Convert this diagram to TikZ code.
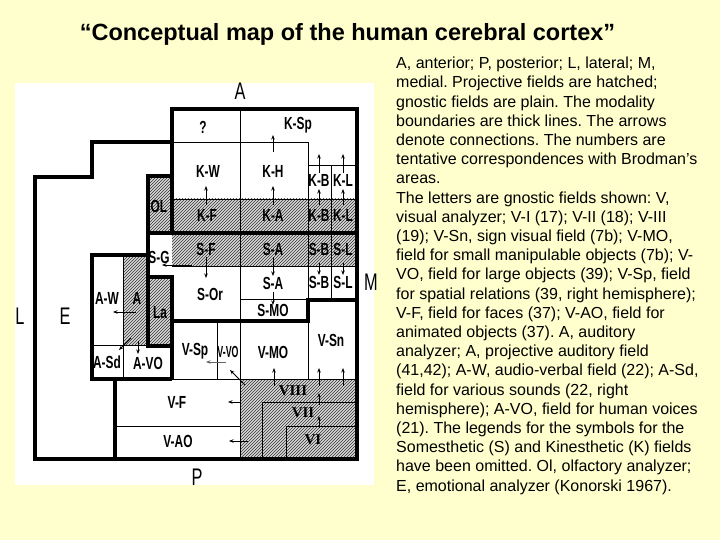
\documentclass[tikz,border=0pt]{standalone}
\usepackage{fontspec}
\setmainfont{Liberation Sans}
\newfontfamily\lblfont[FakeStretch=0.68]{Liberation Sans}
\newfontfamily\narrowfont[FakeStretch=0.55]{Liberation Sans}
\newfontfamily\romfont{Liberation Serif}
\usetikzlibrary{arrows.meta, patterns}
\definecolor{slidebg}{RGB}{255,255,206}
\frenchspacing
\tikzset{
  fieldlbl/.style={inner sep=0pt, font=\lblfont\bfseries\fontsize{17.5}{17.5}\selectfont},
  narrowlbl/.style={inner sep=0pt, font=\narrowfont\bfseries\fontsize{16}{16}\selectfont},
  romlbl/.style={inner sep=0pt, font=\romfont\bfseries\fontsize{15}{15}\selectfont},
  sidelbl/.style={inner sep=0pt, font=\lblfont\fontsize{24}{24}\selectfont},
  bound/.style={line width=3.5pt, line cap=square},
  thinb/.style={line width=0.8pt},
  hatch/.style={preaction={fill=black!15}, pattern=north east lines, pattern color=black!80},
  arr/.style={-{Stealth[length=4.5pt, width=3.5pt]}, line width=0.9pt},
}

\begin{document}
\begin{tikzpicture}[x=1pt, y=-1pt]
  % Slide and panel
  \useasboundingbox (0,0) rectangle (720,540);
  \fill[slidebg] (0,0) rectangle (720,540);
  \fill[white] (15,83) rectangle (374,485);

  % Projective (hatched) fields
  \path[hatch] (148,176) rectangle (172,233);
  \path[hatch] (172,199) rectangle (357,266);
  \path[hatch] (123,255) rectangle (148,345);
  \path[hatch] (148,277) rectangle (172,346);
  \path[hatch] (240,379) rectangle (357,459);

  % Field borders
  \draw[thinb] (240,109) -- (240,459);
  \draw[thinb] (172,142) -- (308,142) -- (308,300);
  \draw[thinb] (308,165) -- (357,165);
  \draw[thinb] (331,165) -- (331,300);
  \draw[thinb] (172,199) -- (357,199);
  \draw[thinb] (172,266) -- (357,266);
  \draw[thinb] (240,299) -- (308,299);
  \draw[thinb] (123,255) -- (123,379);
  \draw[thinb] (92,345) -- (148,345);
  \draw[thinb] (217,321) -- (217,379);
  \draw[thinb] (308,321) -- (308,379);
  \draw[thinb] (172,379) -- (357,379);
  \draw[thinb] (115,426) -- (240,426);
  \draw[thinb] (262,459) -- (262,402) -- (357,402);
  \draw[thinb] (286,459) -- (286,426) -- (357,426);

  % Modality boundaries
  \draw[bound] (172,109) -- (357,109) -- (357,459) -- (35,459) -- (35,177)
    -- (92,177) -- (92,142) -- (172,142) -- cycle;
  \draw[bound] (172,142) -- (172,233);
  \draw[bound] (172,176) -- (148,176) -- (148,346) -- (172,346);
  \draw[bound] (148,233) -- (357,233);
  \draw[bound] (148,277) -- (172,277) -- (172,379);
  \draw[bound] (148,255) -- (92,255) -- (92,379) -- (172,379);
  \draw[bound] (115,379) -- (115,459);
  \draw[bound] (172,321) -- (308,321) -- (308,300) -- (357,300);

  % Nodes
  \node[sidelbl] (ant) at (240,91) {A};
  \node[sidelbl] (post) at (197,477) {P};
  \node[sidelbl] (lat) at (20,316) {L};
  \node[sidelbl] (emo) at (65,316) {E};
  \node[sidelbl] (med) at (371,282) {M};

  \node[fieldlbl] (unk) at (203,127) {?};
  \node[fieldlbl] (ksp) at (298,125) {K-Sp};
  \node[fieldlbl] (kw) at (208,171) {K-W};
  \node[fieldlbl] (kh) at (273,171) {K-H};
  \node[fieldlbl] (kbu) at (319,180) {K-B};
  \node[fieldlbl] (klu) at (343,180) {K-L};
  \node[fieldlbl] (kf) at (207,215) {K-F};
  \node[fieldlbl] (ka) at (273,215) {K-A};
  \node[fieldlbl] (kbl) at (319,215) {K-B};
  \node[fieldlbl] (kll) at (343,215) {K-L};
  \node[fieldlbl] (olf) at (159,206) {OL};

  \node[fieldlbl] (sf) at (206,249) {S-F};
  \node[fieldlbl] (sau) at (273,249) {S-A};
  \node[fieldlbl] (sbu) at (319,249) {S-B};
  \node[fieldlbl] (slu) at (343,249) {S-L};
  \node[fieldlbl] (sg) at (159,257) {S-G};
  \node[fieldlbl] (sor) at (210,294) {S-Or};
  \node[fieldlbl] (sal) at (273,283) {S-A};
  \node[fieldlbl] (smo) at (273,310) {S-MO};
  \node[fieldlbl] (sbl) at (319,282) {S-B};
  \node[fieldlbl] (sll) at (343,282) {S-L};

  \node[fieldlbl] (aw) at (107,298) {A-W};
  \node[fieldlbl] (aud) at (137,298) {A};
  \node[fieldlbl] (la) at (160,313) {La};
  \node[fieldlbl] (asd) at (107,362) {A-Sd};
  \node[fieldlbl] (avo) at (148,363) {A-VO};

  \node[fieldlbl] (vsp) at (195,351) {V-Sp};
  \node[narrowlbl] (vvo) at (228,352) {V-VO};
  \node[fieldlbl] (vmo) at (273,352) {V-MO};
  \node[fieldlbl] (vsn) at (331,340) {V-Sn};
  \node[romlbl] (v3) at (293,391) {VIII};
  \node[romlbl] (v2) at (303,413) {VII};
  \node[romlbl] (v1) at (313,440) {VI};
  \node[fieldlbl] (vf) at (177,402) {V-F};
  \node[fieldlbl] (vao) at (178,441) {V-AO};

  % Arrows
  \draw[arr] (273,152) -- (273,135);
  \draw[arr] (206,205) -- (206,186);
  \draw[arr] (273,205) -- (273,186);
  \draw[arr] (319,205) -- (319,189);
  \draw[arr] (343,205) -- (343,189);
  \draw[arr] (319,173) -- (319,154);
  \draw[arr] (343,173) -- (343,154);
  \draw[arr] (206,257) -- (206,278);
  \draw[arr] (273,257) -- (273,276);
  \draw[arr] (273,292) -- (273,305);
  \draw[arr] (319,263) -- (319,275);
  \draw[arr] (343,263) -- (343,275);
  \draw[arr] (192,265) -- (162,265);
  \draw[arr] (136,312) -- (113,312);
  \draw[arr] (131,338) -- (119,350);
  \draw[arr] (138,341) -- (138,354);
  \draw[arr, black!60] (226,362) -- (206,362);
  \draw[arr] (245,385) -- (230,370);
  \draw[arr] (274,386) -- (274,368);
  \draw[arr] (319,386) -- (319,368);
  \draw[arr] (343,386) -- (343,368);
  \draw[arr] (319,405) -- (319,393);
  \draw[arr] (319,428) -- (319,416);
  \draw[arr] (241,402) -- (228,402);
  \draw[arr] (248,441) -- (229,441);

  % Title and legend text
  \node[anchor=base, inner sep=0pt, font=\bfseries\fontsize{23.5}{23.5}\selectfont] (title) at (347.5,41)
    {“Conceptual map of the human cerebral cortex”};
  \node[anchor=north west, align=left, inner sep=0pt, font=\fontsize{16}{19.2}\selectfont] (legend) at (396,57)
    {A, anterior; P, posterior; L, lateral; M,\\
     medial. Projective fields are hatched;\\
     gnostic fields are plain. The modality\\
     boundaries are thick lines. The arrows\\
     denote connections. The numbers are\\
     tentative correspondences with Brodman’s\\
     areas.\\
     The letters are gnostic fields shown: V,\\
     visual analyzer; V-I (17); V-II (18); V-III\\
     (19); V-Sn, sign visual field (7b); V-MO,\\
     field for small manipulable objects (7b); V-\\
     VO, field for large objects (39); V-Sp, field\\
     for spatial relations (39, right hemisphere);\\
     V-F, field for faces (37); V-AO, field for\\
     animated objects (37). A, auditory\\
     analyzer; A, projective auditory field\\
     (41,42); A-W, audio-verbal field (22); A-Sd,\\
     field for various sounds (22, right\\
     hemisphere); A-VO, field for human voices\\
     (21). The legends for the symbols for the\\
     Somesthetic (S) and Kinesthetic (K) fields\\
     have been omitted. Ol, olfactory analyzer;\\
     E, emotional analyzer (Konorski 1967).};
\end{tikzpicture}
\end{document}
